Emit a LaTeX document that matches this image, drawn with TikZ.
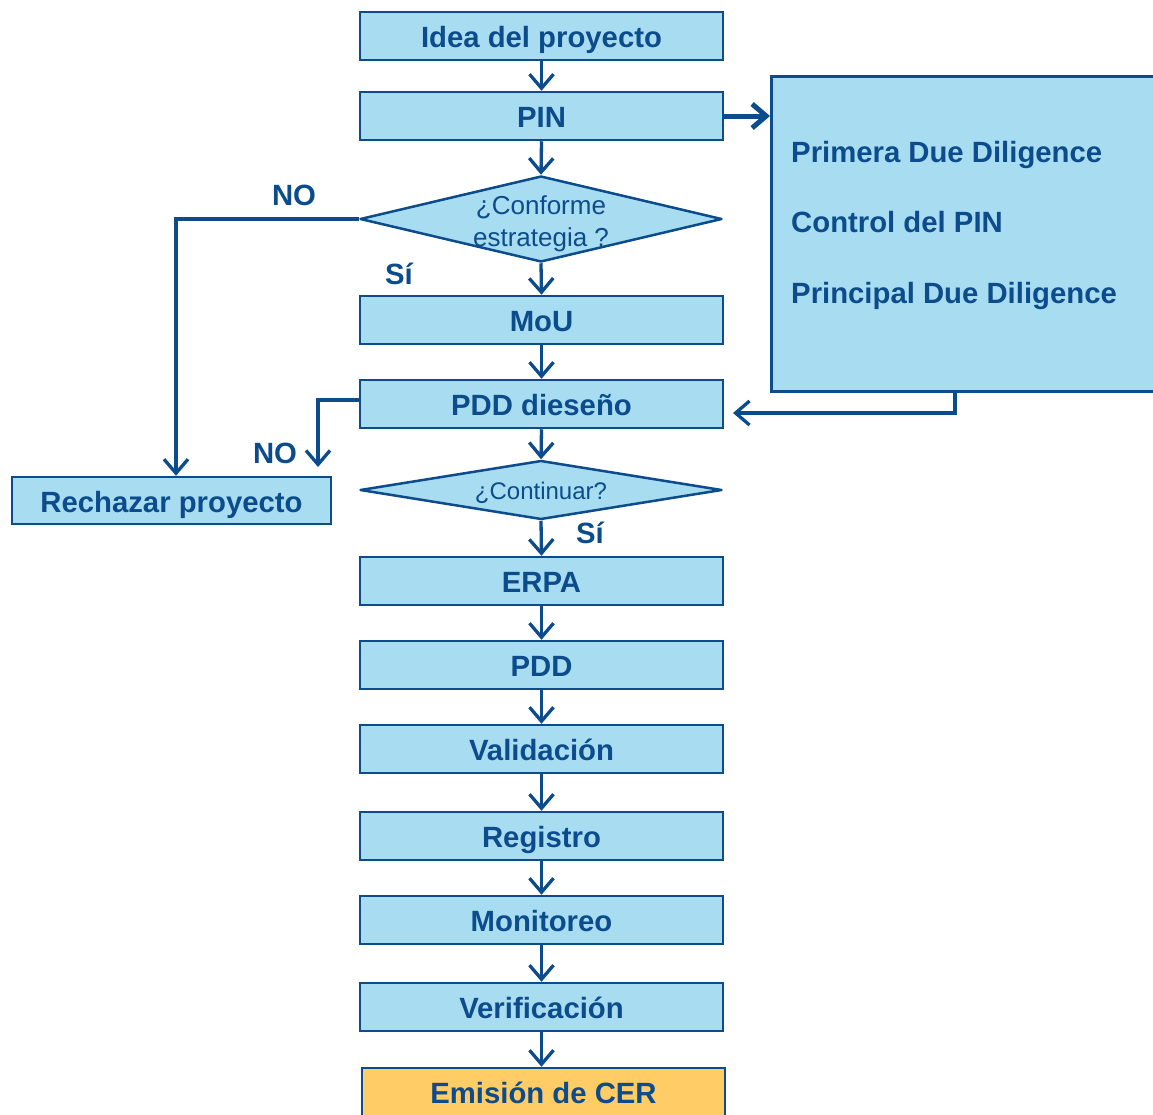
\documentclass[tikz,border=0pt]{standalone}
\usepackage{fontspec}
\setmainfont{Liberation Sans}
\usetikzlibrary{shapes.geometric,arrows.meta,calc}
\definecolor{dblue}{RGB}{12,76,140}
\definecolor{lblue}{RGB}{167,220,241}
\definecolor{lorange}{RGB}{255,204,102}
\tikzset{
  box/.style={draw=dblue, fill=lblue, line width=2.5pt, minimum width=363pt, minimum height=48pt, inner sep=0pt,
    font=\bfseries\fontsize{29.3}{35}\selectfont, text=dblue, text height=23pt, text depth=0pt},
  diam/.style={shape=diamond, draw=dblue, fill=lblue, line width=2.5pt, line join=round, inner sep=0pt, aspect=4.2},
  dtext/.style={font=\fontsize{26}{32}\selectfont, text=dblue, align=center, inner sep=0pt},
  lbl/.style={font=\bfseries\fontsize{29.3}{35}\selectfont, text=dblue, inner sep=0pt, text height=21pt, text depth=0pt},
  arr/.style={draw=dblue, line width=3.3pt, -{Straight Barb[length=14pt,width=24pt]}},
}
\begin{document}
\begin{tikzpicture}[x=1pt,y=-1pt]
\useasboundingbox (0,0) rectangle (1153,1114);
\fill[white] (0,0) rectangle (1153,1114);
% right box
\node[draw=dblue, fill=lblue, line width=2.5pt, minimum width=400pt, minimum height=315pt, inner sep=0pt, anchor=north west] (rbox) at (770,75) {};
\node[lbl, anchor=west] (t1) at (791,152) {Primera Due Diligence};
\node[lbl, anchor=west] (t2) at (791,222) {Control del PIN};
\node[lbl, anchor=west] (t3) at (791,293) {Principal Due Diligence};
% main column
\node[box] (idea) at (541.5,36) {Idea del proyecto};
\node[box] (pin) at (541.5,116) {PIN};
\node[diam, minimum width=362pt, minimum height=86pt,
  label={[dtext, yshift=-5pt]center:{¿Conforme\\estrategia ?}}] (d1) at (541,219) {};
\node[box] (mou) at (541.5,320) {MoU};
\node[box] (pddd) at (541.5,404) {PDD dieseño};
\node[diam, minimum width=362pt, minimum height=59pt,
  label={[dtext, yshift=-3pt, font=\fontsize{24}{30}\selectfont]center:{¿Continuar?}}] (d2) at (541,490) {};
\node[box] (erpa) at (541.5,581) {ERPA};
\node[box] (pdd) at (541.5,665) {PDD};
\node[box] (val) at (541.5,749) {Validación};
\node[box] (reg) at (541.5,836) {Registro};
\node[box] (mon) at (541.5,920) {Monitoreo};
\node[box] (ver) at (541.5,1007) {Verificación};
\node[box, fill=lorange] (cer) at (543.5,1092) {Emisión de CER};
\node[box, minimum width=319pt, minimum height=47pt] (rech) at (171.5,500.5) {Rechazar proyecto};
% labels
\node[lbl] (no1) at (294,195) {NO};
\node[lbl] (si1) at (399,274) {Sí};
\node[lbl] (no2) at (275,453) {NO};
\node[lbl] (si2) at (590,533) {Sí};
% arrows
\draw[arr] (idea.south) -- (pin.north);
\draw[arr] (pin.south) -- (d1.north);
\draw[arr] (d1.south) -- (mou.north);
\draw[arr] (mou.south) -- (pddd.north);
\draw[arr] (pddd.south) -- (d2.north);
\draw[arr] (d2.south) -- (erpa.north);
\draw[arr] (erpa.south) -- (pdd.north);
\draw[arr] (pdd.south) -- (val.north);
\draw[arr] (val.south) -- (reg.north);
\draw[arr] (reg.south) -- (mon.north);
\draw[arr] (mon.south) -- (ver.north);
\draw[arr] (ver.south) -- (ver.south |- cer.north);
\draw[arr, line width=5pt] (pin.east) -- (pin.east -| rbox.west);
\coordinate (ret) at (733,413);
\draw[arr] (rbox.south -| 955,0) |- (ret);
\draw[arr] (d1.west) -| ([xshift=4.5pt]rech.north);
\coordinate (nod) at (318,467);
\draw[arr] ([yshift=4pt]pddd.west) -| (nod);
\end{tikzpicture}
\end{document}
